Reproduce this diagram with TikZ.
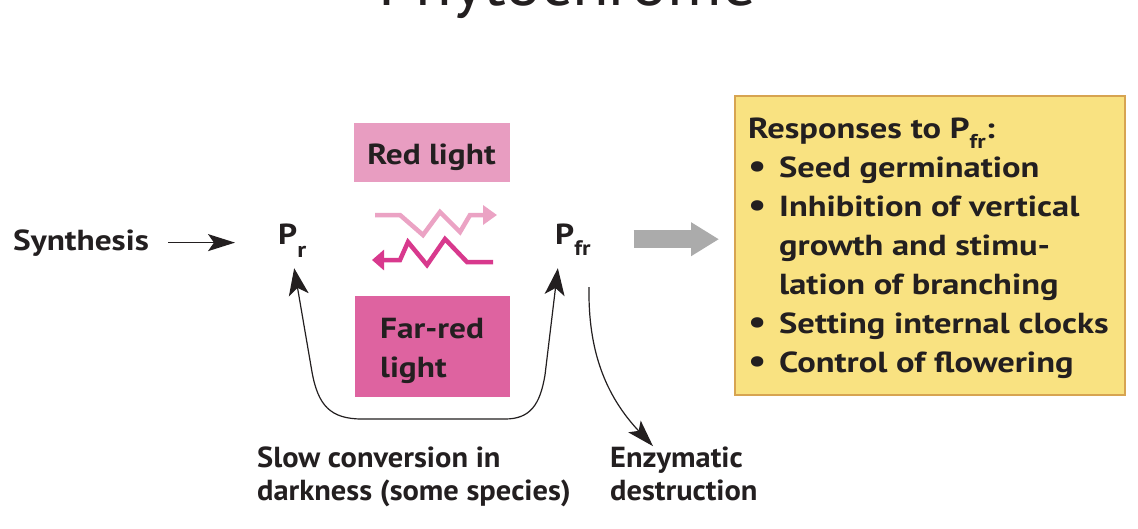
\documentclass[tikz,border=0pt]{standalone}
\usepackage{fontspec}
\setmainfont{PT Sans}
\newfontfamily\fa{PT Sans}[FakeStretch=1.15]
\newfontfamily\fy{PT Sans}[FakeStretch=1.19]
\newfontfamily\fb{PT Sans}[FakeStretch=1.05]
\newfontfamily\ft{PT Sans}[FakeStretch=1.05]
\usetikzlibrary{arrows.meta,calc}
\definecolor{textc}{HTML}{231F20}
\definecolor{redl}{HTML}{E89DC1}
\definecolor{farred}{HTML}{DE63A0}
\definecolor{zigl}{HTML}{EBA3C4}
\definecolor{zigd}{HTML}{D8398D}
\definecolor{grayarr}{HTML}{ABABAB}
\definecolor{yellowf}{HTML}{F9E281}
\definecolor{yellowd}{HTML}{D7A451}
\tikzset{
  txt/.style={inner sep=0pt, text=textc, font=\fa\fontsize{29}{39}\selectfont\bfseries},
  txty/.style={txt, font=\fy\fontsize{29}{39}\selectfont\bfseries},
  txtb/.style={txt, font=\fb\fontsize{29}{39}\selectfont\bfseries},
  blk/.style={draw=textc, line width=1.2pt},
  tipk/.style={-{Stealth[length=27pt,width=17pt,inset=6pt]}},
  tipkk/.style={{Stealth[length=27pt,width=20pt,inset=7pt]}-{Stealth[length=27pt,width=20pt,inset=7pt]}},
  zig/.style={line width=4.5pt, line join=miter, line cap=butt},
}
\newcommand{\bul}{\raisebox{-0.5pt}{\fontsize{34}{39}\selectfont\textbullet}}
\begin{document}
\begin{tikzpicture}[x=1pt,y=-1pt]
\useasboundingbox[fill=white] (0,0) rectangle (1138,528);
% title (cut off at the top)
\node[anchor=base west, inner sep=0pt, text=textc, font=\ft\fontsize{64}{64}\selectfont] (T) at (378,5) {Phytochrome};
% text nodes
\node[txt, anchor=base west] (Syn) at (13,250) {Synthesis};
\node[txt, anchor=base west] (Pr) at (278,244) {P\raisebox{-13pt}{\fontsize{22}{22}\selectfont r}};
\node[txt, anchor=base west] (Pfr) at (555,244) {P\raisebox{-11pt}{\fontsize{21}{21}\selectfont fr}};
% light boxes
\node[fill=redl, minimum width=156pt, minimum height=59pt, inner sep=0pt] (RL) at (432,152.5) {};
\node[txt, anchor=base] (RLt) at (431.5,164) {Red light};
\node[fill=farred, minimum width=155pt, minimum height=101pt, inner sep=0pt] (FR) at (432.5,346.5) {};
\node[txt, anchor=base west] (FRt1) at (380,338) {Far-red};
\node[txt, anchor=base west] (FRt2) at (380,377) {light};
% zigzags
\draw[zig, zigl, -{Triangle[length=14pt,width=19pt]}] (375,215) -- (400,215) -- (423,235) -- (440,212) -- (460,232) -- (470,215) -- (497,215);
\draw[zig, zigd, -{Triangle[length=12pt,width=20pt]}] (493,262) -- (467,262) -- (445,239) -- (427,265) -- (408,242) -- (400,260) -- (372,260);
% responses box
\node[fill=yellowf, draw=yellowd, line width=2pt, minimum width=390pt, minimum height=299pt, inner sep=0pt] (Resp) at (930,245) {};
\node[txty, anchor=base west] (RespT) at (748,138) {\begin{tabular}[t]{@{}l@{}l@{}}
\multicolumn{2}{@{}l@{}}{Responses to P\raisebox{-10pt}{\fontsize{20}{20}\selectfont fr}:}\\
\makebox[31pt][l]{\bul} & Seed germination\\
\bul & Inhibition of vertical\\
 & growth and stimu-\\
 & lation of branching\\
\bul & Setting internal clocks\\
\bul & Control of flowering
\end{tabular}};
% bottom labels
\node[txtb, anchor=base west] (Slow1) at (257,467) {Slow conversion in};
\node[txtb, anchor=base west] (Slow2) at (257,500) {darkness (some species)};
\node[txtb, anchor=base west] (Enz1) at (610,467) {Enzymatic};
\node[txtb, anchor=base west] (Enz2) at (610,500) {destruction};
% connectors
\draw[blk, tipk, shorten <=19pt, shorten >=43pt] (Syn.east) -- (Syn.east -| Pr.west);
\draw[line width=18pt, grayarr, line cap=butt, -{Triangle[length=28pt,width=32pt]}, shorten <=43pt, shorten >=15pt] (Pfr.east) -- (Pfr.east -| Resp.west);
\draw[blk, tipkk] ([xshift=2pt,yshift=-11pt]Pr.south) -- (312,372) .. controls (318,405) and (330,419) .. (362,419) -- (505,419) .. controls (530,419) and (540,405) .. (545,375) -- ([xshift=-15pt,yshift=-13pt]Pfr.south);
\draw[blk, tipk] (Pfr.south -| 589,0) ++(0,32) .. controls (588,350) and (605,395) .. (Enz1.north -| 653,0);
\end{tikzpicture}
\end{document}
